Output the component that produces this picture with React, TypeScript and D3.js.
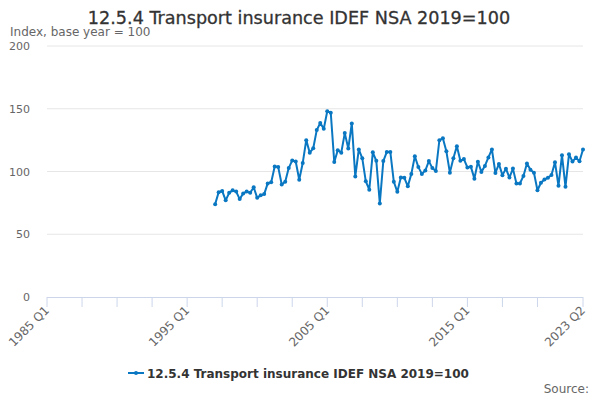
import React from "react";
import * as d3 from "d3";

const title = "12.5.4 Transport insurance IDEF NSA 2019=100";
const yAxisTitle = "Index, base year = 100";
const seriesName = "12.5.4 Transport insurance IDEF NSA 2019=100";
const firstYear = 1985;
const lastYear = 2023;
const lastQuarter = 2;
const dataStartYear = 1997;
const dataStartQuarter = 1;

const values: number[] = [
  74, 83.5, 84.5, 77, 83, 85, 84, 78, 82.5, 84, 83, 87.5, 79, 81, 82, 90.5,
  91.5, 104, 103.5, 89.6, 91.8, 102.7, 108.8, 108, 93.4, 106.8, 125, 115, 118.5, 133, 138.6, 134,
  148, 146.8, 107.5, 117, 115, 130.6, 118.3, 138.3, 96, 117.6, 110.5, 92.2, 85.5, 115.3, 108.5, 74.6,
  108.3, 115.6, 115.6, 91.8, 83.8, 95.2, 95, 88.2, 98.1, 112.2, 103.5, 98.1, 100.8, 108.3, 102.7, 100.4,
  124.9, 126.5, 116.1, 99.1, 110.6, 120.2, 108.5, 109.9, 103.2, 103.7, 94.3, 107.8, 99.7, 104.4, 111.2, 117.6,
  98.8, 106, 97.1, 102.2, 95.2, 102.3, 90.5, 90.5, 96.4, 106.4, 101.4, 99, 85.1, 91, 93.7, 95,
  97.2, 107.4, 88.6, 113, 87.8, 113.7, 107.9, 111.1, 108.1, 117.5,
];

const yTicks = [0, 50, 100, 150, 200];
const xLabelTicks = ["1985 Q1", "1995 Q1", "2005 Q1", "2015 Q1", "2023 Q2"];
const minorTickStep = 10;

const W = 600;
const H = 400;
const FONT = "'DejaVu Sans', sans-serif";

function qIndex(label: string): number {
  const [y, q] = label.split(" Q");
  return (+y - firstYear) * 4 + (+q - 1);
}

export default function App() {
  const nQ = (lastYear - firstYear) * 4 + (lastQuarter - 1);
  const startIdx = (dataStartYear - firstYear) * 4 + (dataStartQuarter - 1);
  const x = d3.scaleLinear().domain([0, nQ]).range([47, 583]);
  const y = d3.scaleLinear().domain([0, 200]).range([297, 46]);
  const pts = values.map((v, i) => [startIdx + i, v] as [number, number]);
  const line = d3
    .line<[number, number]>()
    .x((d) => x(d[0]))
    .y((d) => y(d[1]));
  const tickIdx: number[] = [];
  for (let i = 0; i < nQ - minorTickStep / 2; i += minorTickStep) tickIdx.push(i);
  tickIdx.push(nQ);
  const color = "#0a77c2";
  return (
    <svg width={W} height={H} style={{ position: "absolute", left: 0, top: 0 }} fontFamily={FONT}>
      <rect width={W} height={H} fill="#fff" />
      <text x={299} y={23.5} textAnchor="middle" fontSize={17.6} fill="#333" stroke="#333" strokeWidth={0.3}>
        {title}
      </text>
      <text x={10} y={36} fontSize={12} fill="#666">
        {yAxisTitle}
      </text>
      {yTicks.map((t) => (
        <g key={t}>
          {t > 0 && <line x1={47} x2={583} y1={y(t)} y2={y(t)} stroke="#e6e6e6" />}
          <text x={30} y={y(t) + 4} textAnchor="end" fontSize={11} fill="#666">
            {t}
          </text>
        </g>
      ))}
      <line x1={47} x2={583} y1={297.5} y2={297.5} stroke="#ccd6eb" />
      {tickIdx.map((t) => (
        <line key={t} x1={x(t)} x2={x(t)} y1={297} y2={307} stroke="#ccd6eb" />
      ))}
      {xLabelTicks.map((l) => {
        const xi = x(qIndex(l));
        return (
          <text
            key={l}
            transform={`translate(${xi + 3},${311}) rotate(-45)`}
            textAnchor="end"
            fontSize={12}
            fill="#666"
          >
            {l}
          </text>
        );
      })}
      <path d={line(pts) || ""} fill="none" stroke={color} strokeWidth={2} strokeLinejoin="round" />
      {pts.map((p, i) => (
        <circle key={i} cx={x(p[0])} cy={y(p[1])} r={2} fill={color} />
      ))}
      <g>
        <line x1={128} x2={144} y1={373} y2={373} stroke={color} strokeWidth={2} />
        <circle cx={136} cy={373} r={2} fill={color} />
        <text x={147} y={377.5} fontSize={12} fontWeight="bold" fill="#333">
          {seriesName}
        </text>
      </g>
      <text x={589} y={393} textAnchor="end" fontSize={12} fill="#666">
        Source:
      </text>
    </svg>
  );
}
